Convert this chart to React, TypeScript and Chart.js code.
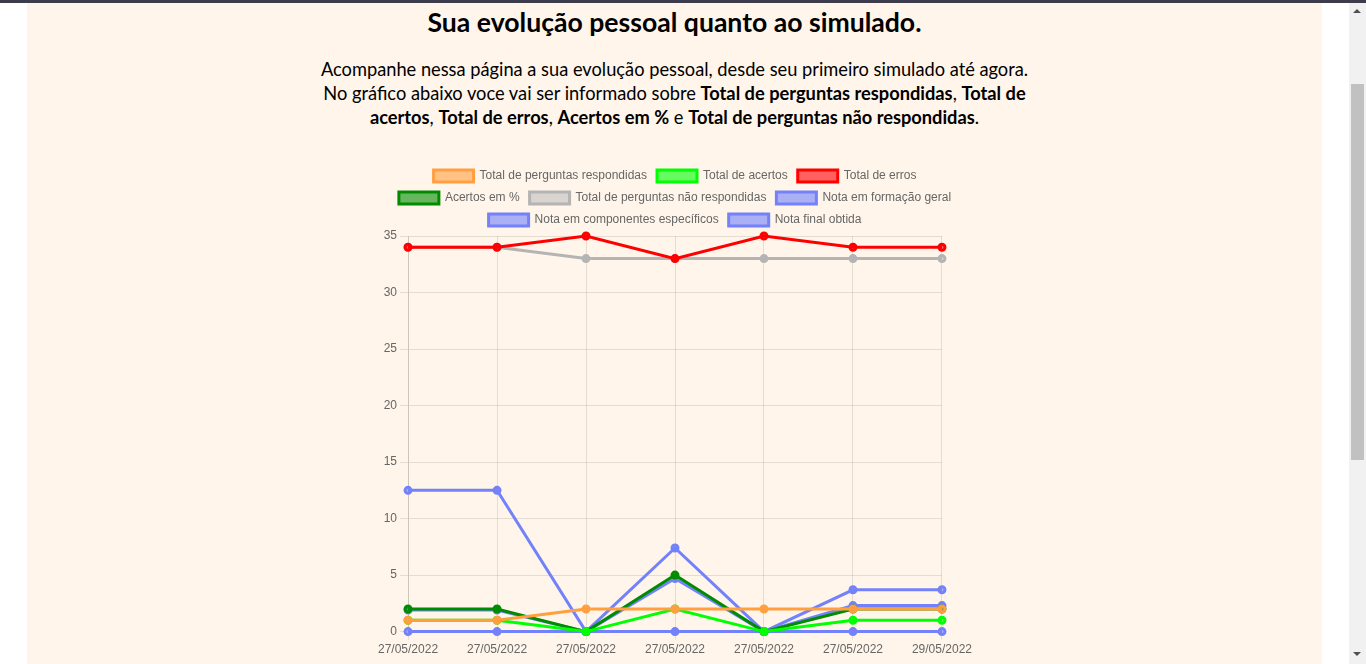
import React, { useEffect, useRef } from "react";
import { Chart, registerables } from "chart.js";

Chart.register(...registerables);

const labels = ["27/05/2022", "27/05/2022", "27/05/2022", "27/05/2022", "27/05/2022", "27/05/2022", "29/05/2022"];
const respondidas = [1, 1, 2, 2, 2, 2, 2];
const acertos = [1, 1, 0, 2, 0, 1, 1];
const erros = [34, 34, 35, 33, 35, 34, 34];
const acertosPct = [2, 2, 0, 5, 0, 2, 2];
const naoRespondidas = [34, 34, 33, 33, 33, 33, 33];
const notaGeral = [12.5, 12.5, 0, 7.4, 0, 3.7, 3.7];
const notaEspecificos = [0, 0, 0, 0, 0, 0, 0];
const notaFinal = [1.9, 1.9, 0, 4.7, 0, 2.3, 2.3];

const seriesNames = [
  "Total de perguntas respondidas",
  "Total de acertos",
  "Total de erros",
  "Acertos em %",
  "Total de perguntas não respondidas",
  "Nota em formação geral",
  "Nota em componentes específicos",
  "Nota final obtida",
];
const borderColors = [
  "rgb(255,159,64)",
  "rgb(0,255,0)",
  "rgb(255,0,0)",
  "rgb(0,140,0)",
  "rgb(180,180,180)",
  "rgb(115,130,250)",
  "rgb(115,130,250)",
  "rgb(115,130,250)",
];
const fillColors = [
  "rgba(255,159,64,0.6)",
  "rgba(0,255,0,0.6)",
  "rgba(255,0,0,0.6)",
  "rgba(0,140,0,0.6)",
  "rgba(180,180,180,0.5)",
  "rgba(115,130,250,0.6)",
  "rgba(115,130,250,0.6)",
  "rgba(115,130,250,0.6)",
];

function LineChart() {
  const ref = useRef<HTMLCanvasElement | null>(null);
  useEffect(() => {
    if (!ref.current) return;
    const values = [respondidas, acertos, erros, acertosPct, naoRespondidas, notaGeral, notaEspecificos, notaFinal];
    const chart = new Chart(ref.current, {
      type: "line",
      data: {
        labels,
        datasets: values.map((v, i) => ({
          label: seriesNames[i],
          data: v,
          borderColor: borderColors[i],
          backgroundColor: fillColors[i],
          borderWidth: 3,
          pointRadius: 3,
          fill: false,
        })),
      },
      options: {
        animation: false,
        responsive: false,
        maintainAspectRatio: false,
        plugins: {
          legend: { labels: { color: "#666", font: { size: 12 } } },
          tooltip: { enabled: false },
        },
        scales: {
          x: { ticks: { color: "#666", maxRotation: 0 } },
          y: { beginAtZero: true, ticks: { color: "#666" } },
        },
      },
    });
    return () => chart.destroy();
  }, []);
  return <canvas ref={ref} width={600} height={500} style={{ position: "absolute", left: 375, top: 160 }} />;
}

export default function App() {
  return (
    <div style={{ position: "fixed", inset: 0, background: "#fff", overflow: "hidden" }}>
      <div style={{ position: "absolute", left: 0, top: 0, width: 1366, height: 3, background: "#3c3c4c" }} />
      <div style={{ position: "absolute", left: 27, top: 3, width: 1295, height: 661, background: "#fff5ea" }} />
      <div
        style={{
          position: "absolute",
          left: 0,
          width: 1349,
          top: 6,
          textAlign: "center",
          fontFamily: "Lato, sans-serif",
          fontWeight: 700,
          fontSize: 26.6,
          lineHeight: "32px",
          color: "#000",
        }}
      >
        Sua evolução pessoal quanto ao simulado.
      </div>
      <div
        style={{
          position: "absolute",
          left: 0,
          width: 1349,
          top: 57,
          textAlign: "center",
          fontFamily: "Lato, sans-serif",
          fontSize: 18.25,
          lineHeight: "24px",
          color: "#000",
        }}
      >
        Acompanhe nessa página a sua evolução pessoal, desde seu primeiro simulado até agora.
        <br />
        No gráfico abaixo voce vai ser informado sobre <b>Total de perguntas respondidas</b>, <b>Total de</b>
        <br />
        <b>acertos</b>, <b>Total de erros</b>, <b>Acertos em %</b> e <b>Total de perguntas não respondidas</b>.
      </div>
      <LineChart />
      <div style={{ position: "absolute", left: 1349, top: 3, width: 17, height: 661, background: "#f1f1f1" }} />
      <div style={{ position: "absolute", left: 1351, top: 84, width: 13, height: 376, background: "#c1c1c1" }} />
      <div
        style={{
          position: "absolute",
          left: 1353,
          top: 9,
          width: 0,
          height: 0,
          borderLeft: "4px solid transparent",
          borderRight: "4px solid transparent",
          borderBottom: "4px solid #505050",
        }}
      />
      <div
        style={{
          position: "absolute",
          left: 1353,
          top: 652,
          width: 0,
          height: 0,
          borderLeft: "4px solid transparent",
          borderRight: "4px solid transparent",
          borderTop: "4px solid #505050",
        }}
      />
    </div>
  );
}
